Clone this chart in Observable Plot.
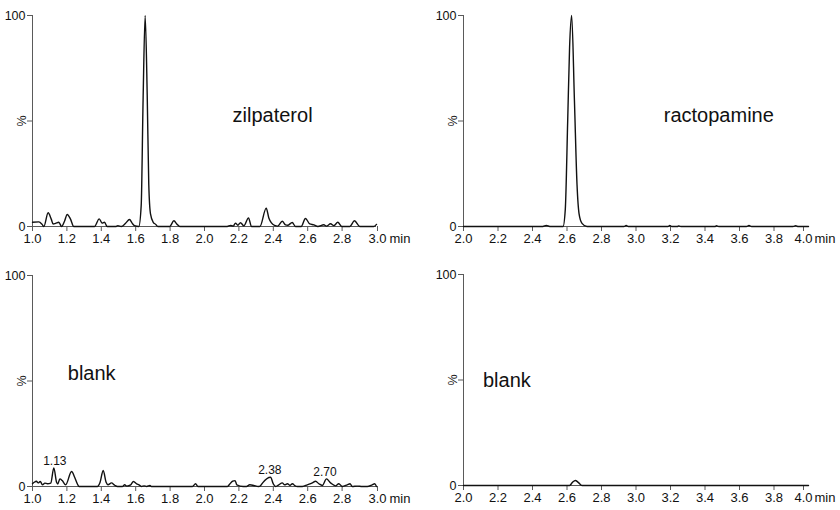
<!DOCTYPE html>
<html>
<head>
<meta charset="utf-8">
<script src="https://cdn.jsdelivr.net/npm/d3@7"></script>
<script src="https://cdn.jsdelivr.net/npm/@observablehq/plot@0.6"></script>
<style>
  body { margin: 0; background: #fff; }
  #wrap { position: relative; width: 840px; height: 510px; background: #fff; font-family: "Liberation Sans", Arial, sans-serif; }
  .panel { position: absolute; }
</style>
</head>
<body>
<div id="wrap"></div>
<script>
// ---------- data ----------
const zilpaterolTime = [1.00,1.037,1.056,1.066,1.091,1.109,1.12,1.134,1.153,1.169,1.186,1.202,1.221,1.240,1.36,1.388,1.405,1.419,1.434,1.483,1.496,1.516,1.541,1.564,1.58,1.593,1.618,1.632,1.643,1.655,1.667,1.676,1.686,1.702,1.717,1.729,1.798,1.822,1.841,1.857,2.132,2.151,2.167,2.180,2.194,2.209,2.229,2.256,2.273,2.322,2.359,2.374,2.388,2.407,2.426,2.452,2.471,2.484,2.510,2.529,2.562,2.587,2.612,2.636,2.659,2.694,2.709,2.733,2.752,2.775,2.798,2.845,2.872,2.903,2.984,3.00];
const zilpaterolIntensity = [2,2.2,1,0,6.5,3.5,1.2,1.5,2,0,2.5,5.7,3.5,0,0,3.6,1.6,2,0,0,0.4,0,1.5,3.3,1.5,0.4,0,10,60,100,62,20,6,2,1,0,0,2.7,1,0,0,0.5,0.2,1.6,0.6,1.8,0.3,4.1,0,0,8.7,4,1.8,0.5,0.2,2.5,0.8,0.6,1.9,0,0,3.8,1.2,0.8,0,0.8,0.2,1.3,0.4,2,0,0,2.7,0,0,1];

const ractopamineTime = [2.00,2.46,2.48,2.50,2.577,2.59,2.604,2.615,2.627,2.643,2.658,2.67,2.687,2.716,2.93,2.943,2.956,3.185,3.196,3.207,3.24,3.245,3.26,3.46,3.465,3.48,3.64,3.655,3.67,3.91,3.926,3.94,4.00];
const ractopamineIntensity = [0,0,0.5,0,0,8,50,85,100,60,20,6,1.5,0,0,0.5,0,0,0.5,0,0,0.3,0,0,0.4,0,0,0.5,0,0,0.4,0,0];

const blankATime = [1.00,1.01,1.023,1.033,1.045,1.058,1.072,1.087,1.106,1.124,1.14,1.147,1.159,1.173,1.193,1.227,1.245,1.261,1.271,1.377,1.393,1.411,1.428,1.439,1.459,1.478,1.494,1.522,1.536,1.548,1.571,1.587,1.606,1.619,1.633,1.649,1.664,1.683,1.691,1.93,1.948,1.962,2.133,2.152,2.164,2.178,2.188,2.225,2.244,2.263,2.286,2.313,2.327,2.338,2.384,2.40,2.413,2.432,2.452,2.466,2.482,2.497,2.511,2.527,2.54,2.569,2.598,2.627,2.646,2.665,2.685,2.709,2.733,2.762,2.781,2.801,2.83,2.846,2.859,2.888,2.917,2.946,2.975,2.989,3.00];
const blankAIntensity = [1.3,2,2.5,1.7,2.4,0.8,1.6,1.3,1.6,8.8,2,1.2,3.6,2.8,0.8,7.1,4.4,1.2,0,0,2,7.6,2,0.8,1.7,0.6,0,0,0.8,0.2,0.8,2.4,1.2,0.8,0,0.3,0,0.5,0,0,1.3,0,0,1.7,2.5,2.8,0.8,0,0,0.8,0.5,0,0.5,1.7,4.4,1.2,0,0.8,1.7,0.8,1.3,0.5,1.3,0.3,0,0,0.8,1.7,2.5,1.3,0.5,3.6,1.7,0.3,1.3,0,0.8,1.3,0,0.2,0,0,0.8,1.3,0];

const blankBTime = [2.00,2.60,2.615,2.632,2.648,2.665,2.687,2.70,4.00];
const blankBIntensity = [0,0,0,1.5,2.4,1.5,0,0,0];

const blankPeakTimes = [1.13, 2.38, 2.70];
const blankPeakHeights = [8.8, 4.4, 3.6];
const blankPeakLabels = ["1.13", "2.38", "2.70"];

const xTicksEarly = [1.0, 1.2, 1.4, 1.6, 1.8, 2.0, 2.2, 2.4, 2.6, 2.8, 3.0];
const xTicksLate = [2.0, 2.2, 2.4, 2.6, 2.8, 3.0, 3.2, 3.4, 3.6, 3.8, 4.0];
const yTicks = [0, 100];
const yMidTick = [50];
const axisUnit = "min";
const yUnit = "%";

// ---------- drawing ----------
const INK = "#111111";
const AXIS = "#5a5a5a";
const fmt = d3.format(".1f");

function zip(t, v) { return t.map((x, i) => ({ t: x, v: v[i] })); }

function panel(cfg) {
  const data = zip(cfg.time, cfg.intensity);
  const [x0, x1] = [cfg.ticks[0], cfg.ticks[cfg.ticks.length - 1]];
  const marks = [
    Plot.ruleY([0], { stroke: AXIS, strokeWidth: 1 }),
    Plot.ruleX([x0], { y1: 0, y2: 100, stroke: AXIS, strokeWidth: 1 }),
    Plot.axisX({ ticks: cfg.ticks.slice(0, -1), tickFormat: fmt, tickSize: 5, tickPadding: 2, stroke: AXIS, fill: INK, fontSize: 13, label: null }),
    Plot.axisX({ ticks: cfg.ticks.slice(-1), tickFormat: fmt, tickSize: 5, tickPadding: 2, stroke: AXIS, fill: INK, fontSize: 13, label: null, dx: cfg.lastDx }),
    Plot.axisY({ ticks: yTicks, tickSize: 5, tickPadding: 2, stroke: AXIS, fill: INK, fontSize: 12.5, label: null }),
    Plot.axisY({ ticks: yMidTick, tickFormat: () => yUnit, tickSize: 5, tickPadding: 2, tickRotate: -90, stroke: AXIS, fill: INK, fontSize: 12.5, label: null }),
    Plot.text([axisUnit], { x: x1, y: 0, text: d => d, textAnchor: "start", lineAnchor: "top", dx: cfg.unitDx, dy: 7, fontSize: 13, fill: INK }),
    Plot.line(data, { x: "t", y: "v", curve: "monotone-x", stroke: INK, strokeWidth: 1.4 }),
    Plot.text([cfg.label], { x: cfg.labelX, y: cfg.labelY, text: d => d, textAnchor: "start", lineAnchor: "bottom", fontSize: 20, fill: INK })
  ];
  if (cfg.peaks) {
    marks.push(Plot.text(cfg.peaks.t.map((t, i) => ({ t, h: cfg.peaks.h[i], s: cfg.peaks.s[i] })), {
      x: "t", y: "h", text: "s", lineAnchor: "bottom", dy: -3, fontSize: 12, fill: INK
    }));
  }
  const svg = Plot.plot({
    width: 420,
    height: cfg.height,
    marginTop: cfg.mt,
    marginBottom: cfg.mb,
    marginLeft: cfg.ml,
    marginRight: cfg.mr,
    x: { domain: [x0, x1] },
    y: { domain: [0, 100] },
    style: { fontFamily: "'Liberation Sans', Arial, sans-serif", fontSize: "13px", color: INK, background: "transparent", overflow: "visible" },
    marks
  });
  const div = document.createElement("div");
  div.className = "panel";
  div.style.left = cfg.left + "px";
  div.style.top = cfg.top + "px";
  div.appendChild(svg);
  document.getElementById("wrap").appendChild(div);
}

panel({ left: 0, top: 0, height: 250, mt: 15, mb: 24, ml: 32, mr: 44, ticks: xTicksEarly, lastDx: 1, unitDx: 13,
  time: zilpaterolTime, intensity: zilpaterolIntensity, label: "zilpaterol", labelX: 2.163, labelY: 49.5 });
panel({ left: 420, top: 0, height: 250, mt: 15, mb: 24, ml: 43, mr: 32, ticks: xTicksLate, lastDx: -5, unitDx: 6,
  time: ractopamineTime, intensity: ractopamineIntensity, label: "ractopamine", labelX: 3.161, labelY: 49.5 });
panel({ left: 0, top: 250, height: 260, mt: 25, mb: 24, ml: 32, mr: 44, ticks: xTicksEarly, lastDx: 1, unitDx: 13,
  time: blankATime, intensity: blankAIntensity, label: "blank", labelX: 1.205, labelY: 50.6,
  peaks: { t: blankPeakTimes, h: blankPeakHeights, s: blankPeakLabels } });
panel({ left: 420, top: 250, height: 260, mt: 24, mb: 25, ml: 43, mr: 32, ticks: xTicksLate, lastDx: -5, unitDx: 6,
  time: blankBTime, intensity: blankBIntensity, label: "blank", labelX: 2.113, labelY: 46.6 });
</script>
</body>
</html>
